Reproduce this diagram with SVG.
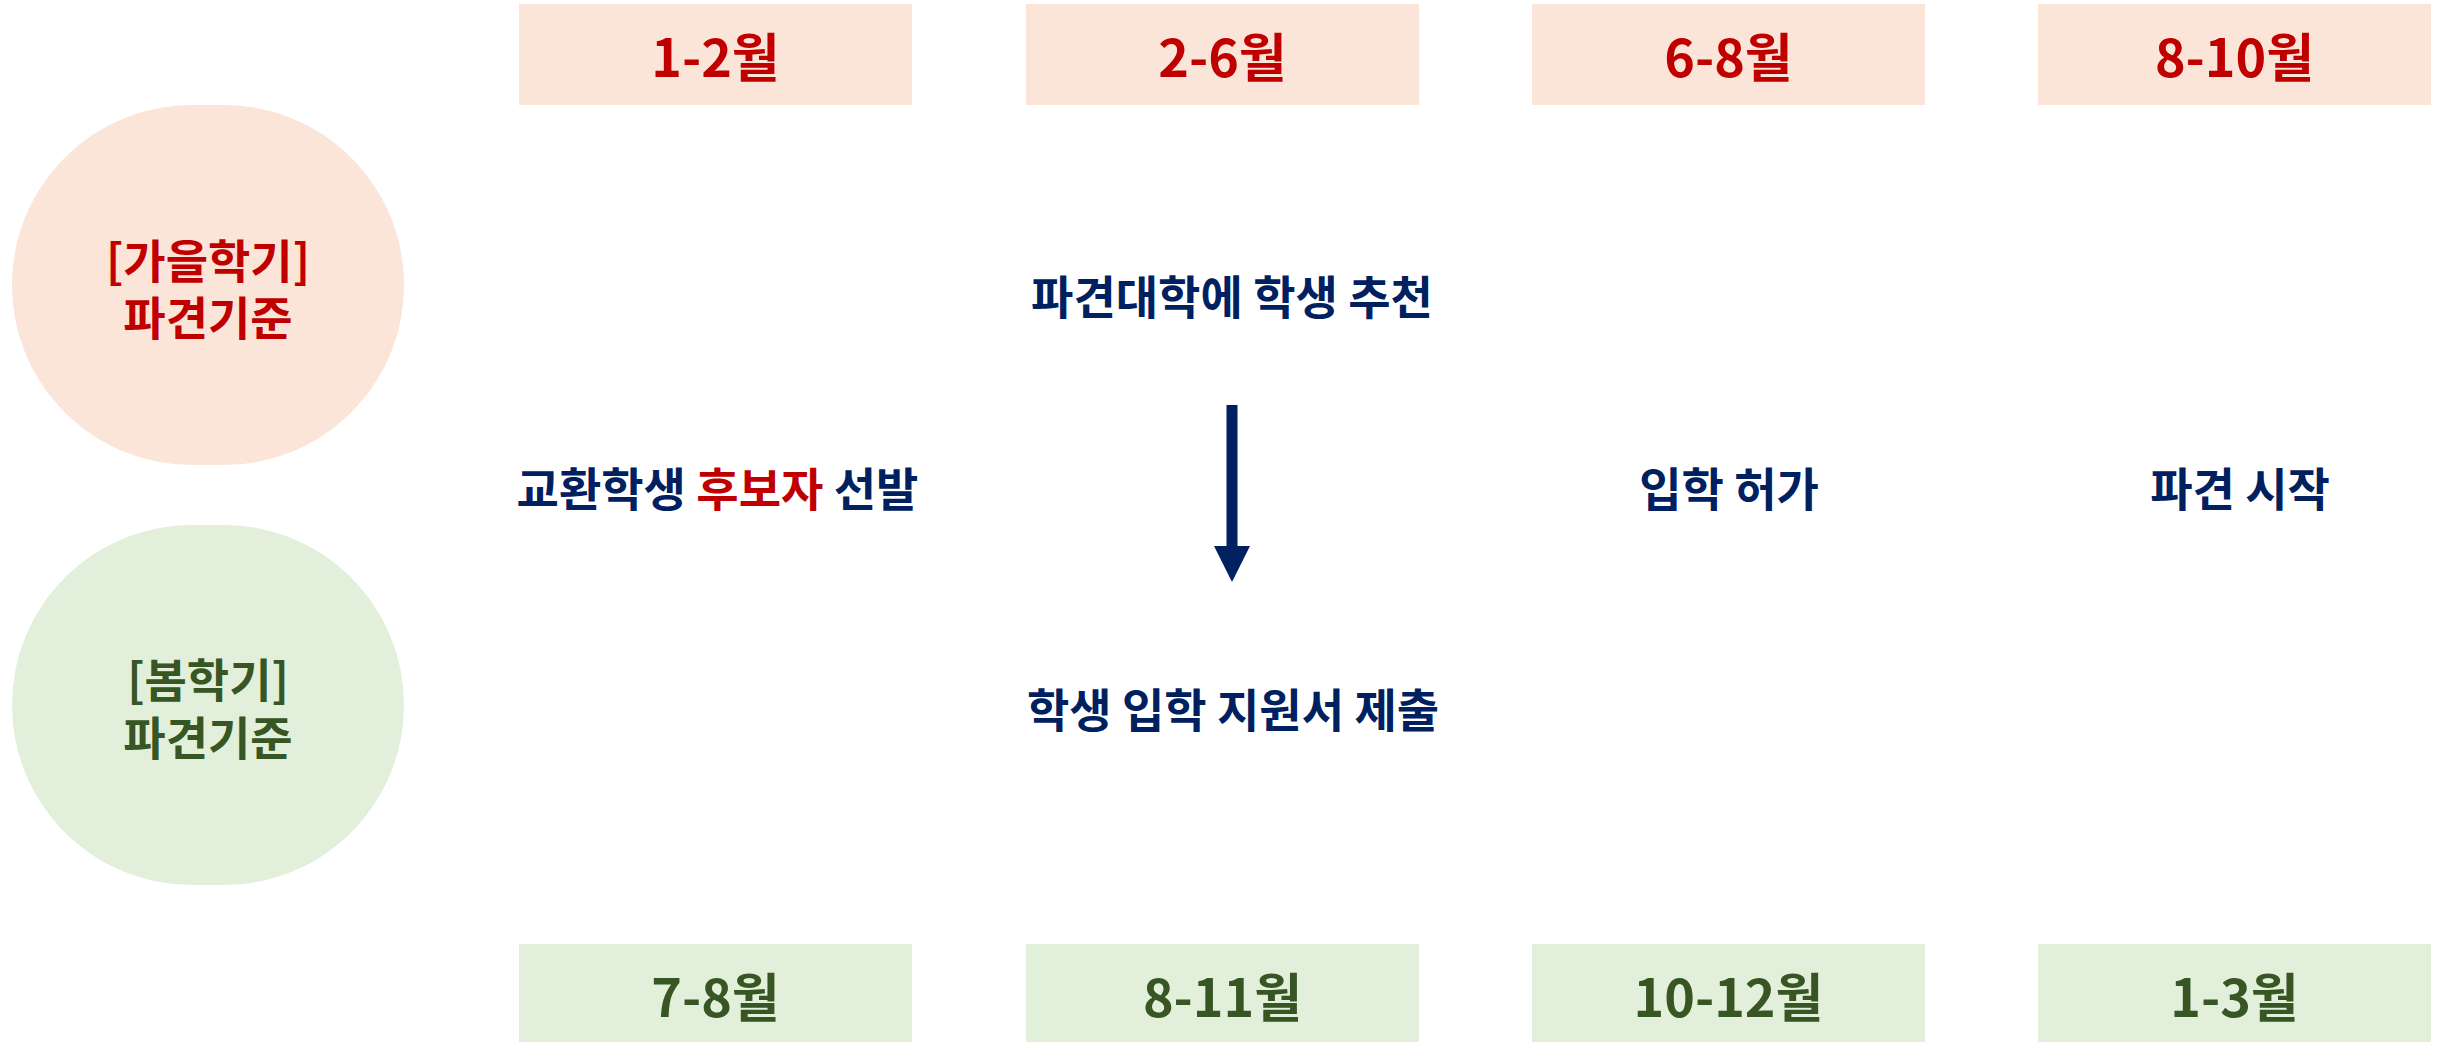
<svg xmlns="http://www.w3.org/2000/svg" width="2450" height="1042" viewBox="0 0 2450 1042">
  <style>
    .t { font-family: "Noto Sans CJK KR", "Noto Sans", sans-serif; font-weight: 700; text-anchor: middle; dominant-baseline: central; }
    .fall { fill: #FAE5D8; }
    .spring { fill: #E2EFDA; }
    .red { fill: #C00000; }
    .green { fill: #375623; }
    .navy { fill: #002060; }
    .month { font-size: 52px; }
    .sem { font-size: 46px; }
    .step { font-size: 46px; }
  </style>
  <defs>
    <marker id="arrowhead" markerWidth="36" markerHeight="36" viewBox="0 0 36 36" refX="0" refY="18" orient="auto" markerUnits="userSpaceOnUse">
      <path d="M0,0 L36,18 L0,36 z" fill="#002060"/>
    </marker>
  </defs>

  <g id="fall-semester">
    <rect x="12" y="105" width="392" height="360" rx="180" ry="180" class="fall"/>
    <text class="t sem red" x="208" y="258"><tspan x="208" y="258">[가을학기]</tspan><tspan x="208" y="315">파견기준</tspan></text>
  </g>
  <g id="spring-semester">
    <rect x="12" y="525" width="392" height="360" rx="180" ry="180" class="spring"/>
    <text class="t sem green" x="208" y="677"><tspan x="208" y="677">[봄학기]</tspan><tspan x="208" y="735">파견기준</tspan></text>
  </g>

  <g id="fall-1">
    <rect x="519" y="4" width="393" height="101" class="fall"/>
    <text class="t month red" x="715.5" y="54.5">1-2월</text>
  </g>
  <g id="fall-2">
    <rect x="1026" y="4" width="393" height="101" class="fall"/>
    <text class="t month red" x="1222.5" y="54.5">2-6월</text>
  </g>
  <g id="fall-3">
    <rect x="1532" y="4" width="393" height="101" class="fall"/>
    <text class="t month red" x="1728.5" y="54.5">6-8월</text>
  </g>
  <g id="fall-4">
    <rect x="2038" y="4" width="393" height="101" class="fall"/>
    <text class="t month red" x="2234.5" y="54.5">8-10월</text>
  </g>

  <g id="spring-1">
    <rect x="519" y="944" width="393" height="101" class="spring"/>
    <text class="t month green" x="715.5" y="994.5">7-8월</text>
  </g>
  <g id="spring-2">
    <rect x="1026" y="944" width="393" height="101" class="spring"/>
    <text class="t month green" x="1222.5" y="994.5">8-11월</text>
  </g>
  <g id="spring-3">
    <rect x="1532" y="944" width="393" height="101" class="spring"/>
    <text class="t month green" x="1728.5" y="994.5">10-12월</text>
  </g>
  <g id="spring-4">
    <rect x="2038" y="944" width="393" height="101" class="spring"/>
    <text class="t month green" x="2234.5" y="994.5">1-3월</text>
  </g>

  <g id="step-select">
    <text class="t step navy" x="717.5" y="486">교환학생 <tspan class="red">후보자</tspan> 선발</text>
  </g>
  <g id="step-recommend">
    <text class="t step navy" x="1232" y="293.5">파견대학에 학생 추천</text>
  </g>
  <g id="step-apply">
    <text class="t step navy" x="1233" y="706.5">학생 입학 지원서 제출</text>
  </g>
  <g id="step-admit">
    <text class="t step navy" x="1729" y="486">입학 허가</text>
  </g>
  <g id="step-start">
    <text class="t step navy" x="2240" y="486">파견 시작</text>
  </g>

  <g id="connectors">
    <line x1="1232" y1="405" x2="1232" y2="546" stroke="#002060" stroke-width="11" marker-end="url(#arrowhead)"/>
  </g>
</svg>
